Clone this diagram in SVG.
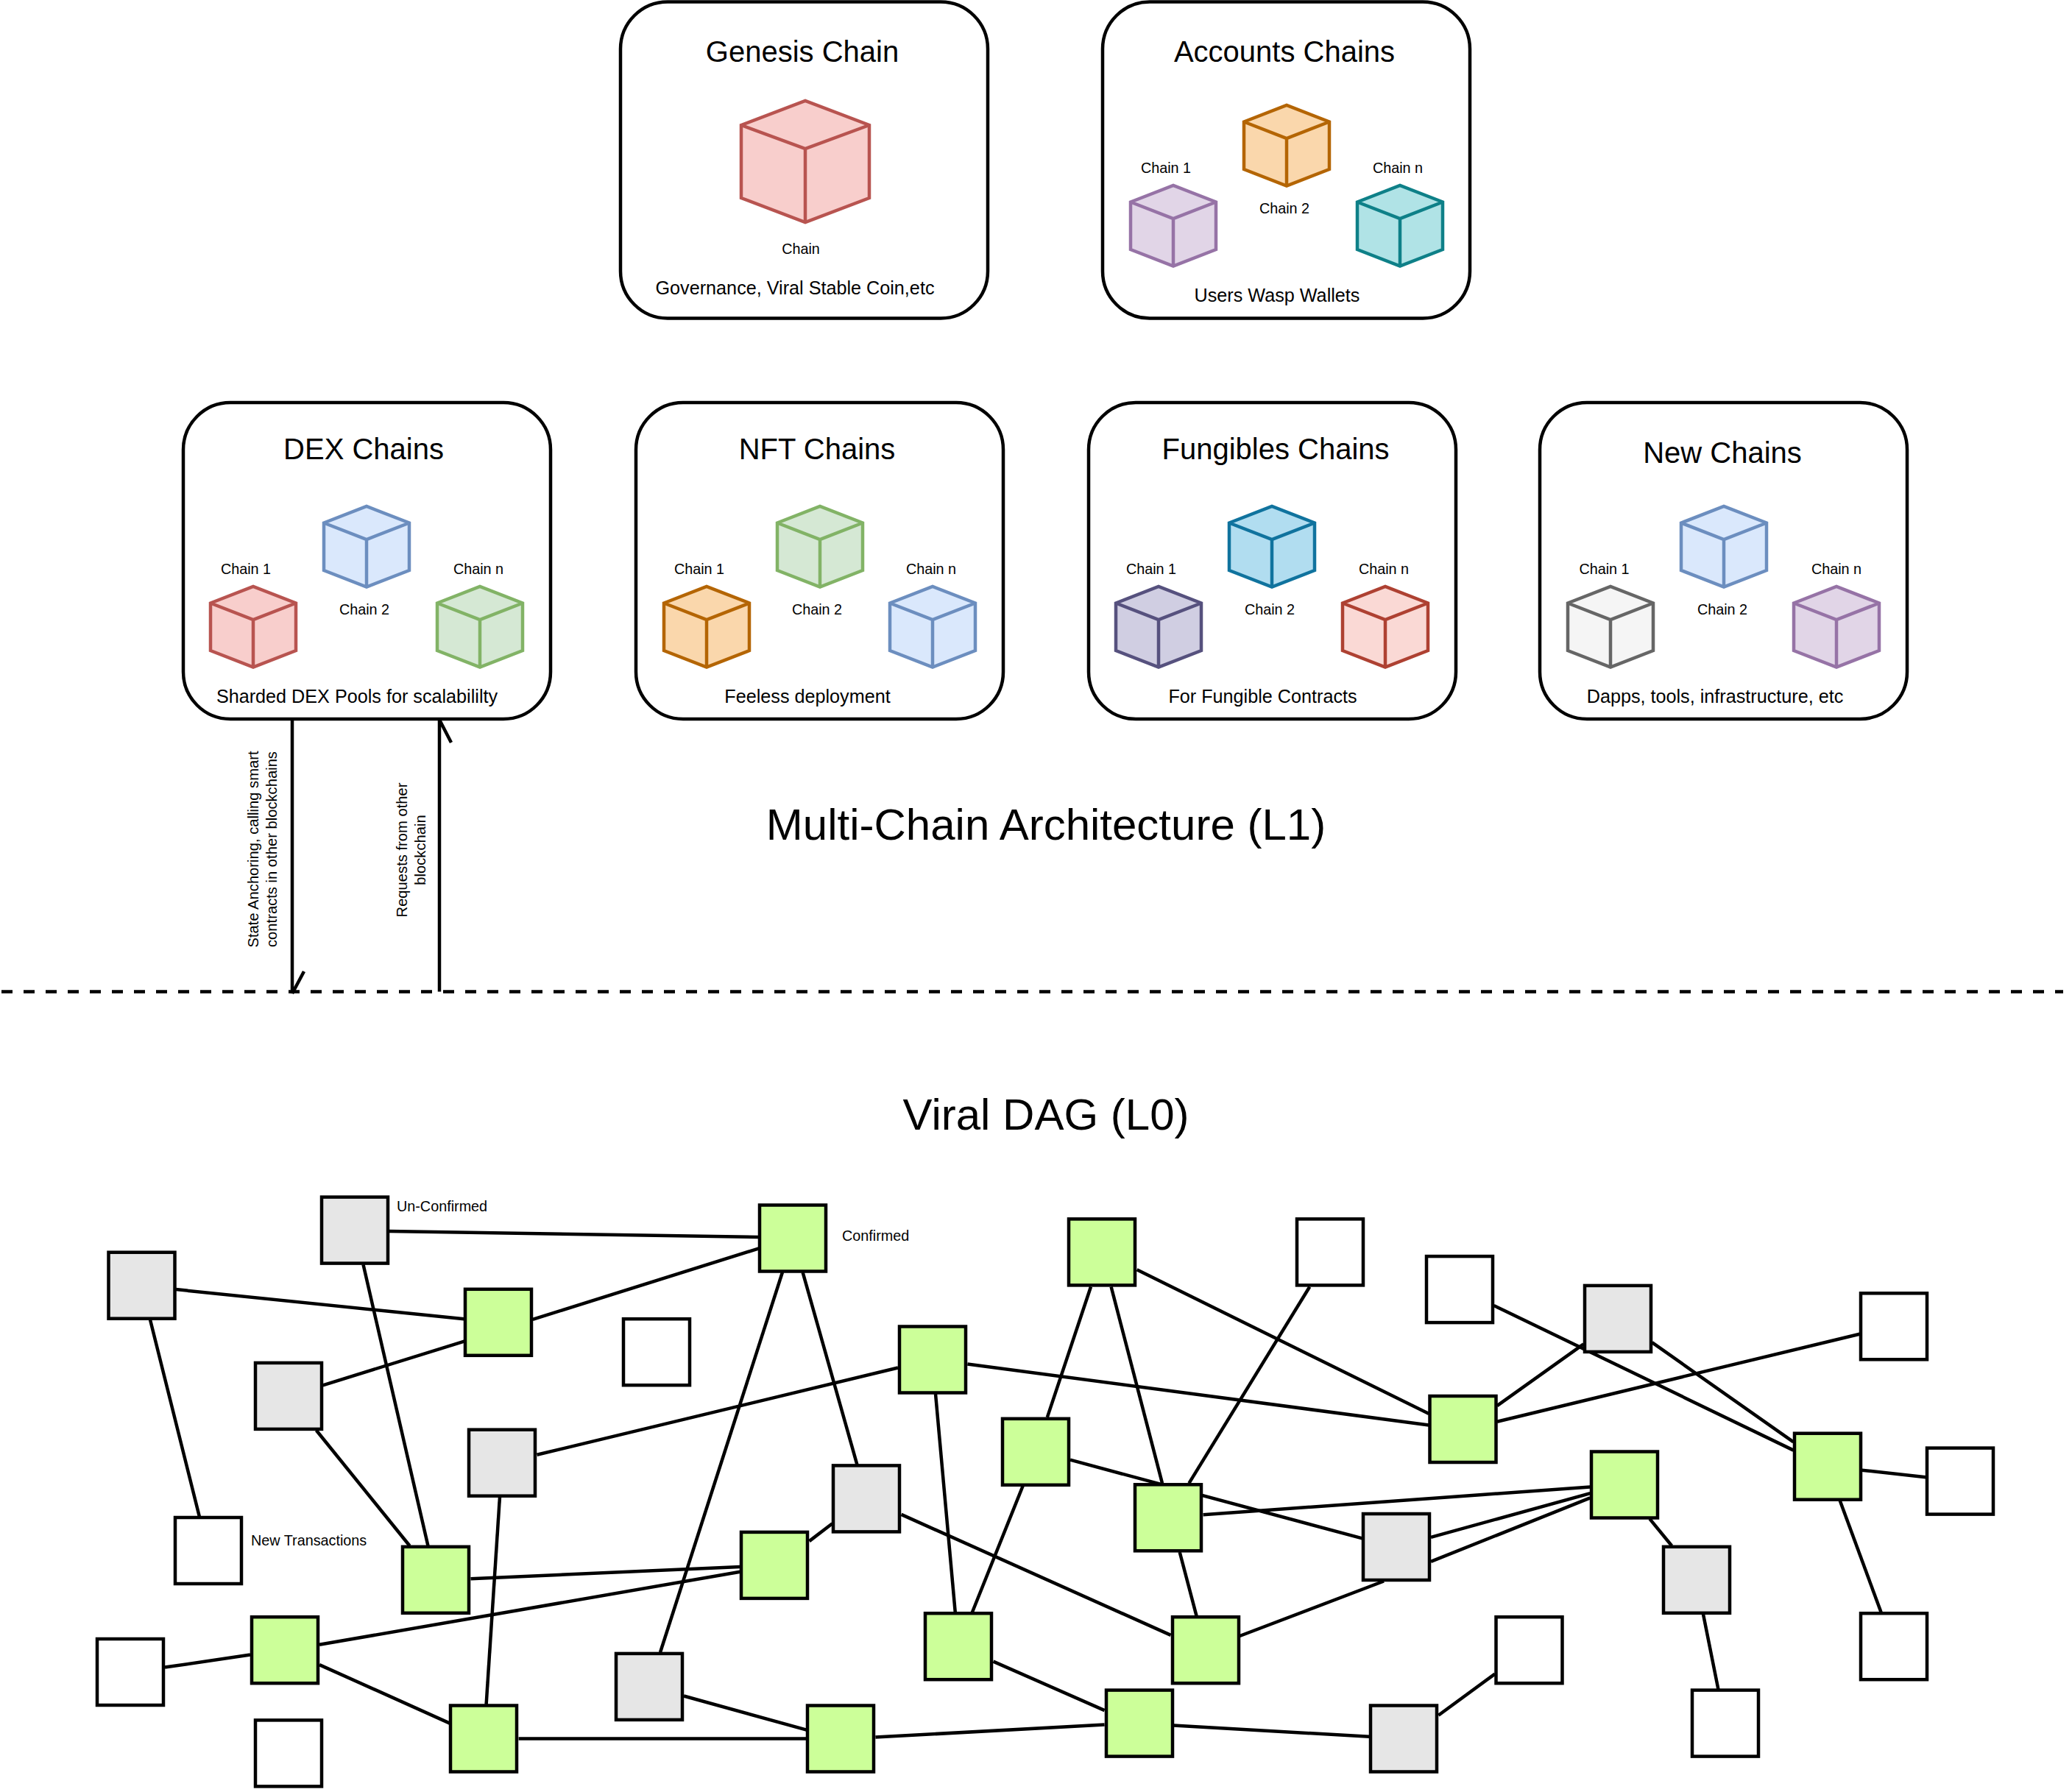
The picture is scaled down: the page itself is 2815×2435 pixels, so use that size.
<svg xmlns="http://www.w3.org/2000/svg" width="2815" height="2435" viewBox="0 0 2815 2435">
<style>
text{font-family:"Liberation Sans",Arial,Helvetica,sans-serif;fill:#000}
.t{font-size:40px;text-anchor:middle}
.s{font-size:25.2px;text-anchor:middle}
.l{font-size:19.8px;text-anchor:middle}
.r{font-size:20.2px;text-anchor:middle}
.ls{font-size:19.8px}
.h{font-size:60px;text-anchor:middle}
.box{fill:#fff;stroke:#000;stroke-width:4.5}
.c{stroke-width:4.5;stroke-linejoin:miter}
.i{fill:none}
.red{fill:#f8cecc;stroke:#b85450}.blue{fill:#dae8fc;stroke:#6c8ebf}.green{fill:#d5e8d4;stroke:#82b366}
.orange{fill:#fad7ac;stroke:#b46504}.purple{fill:#e1d5e7;stroke:#9673a6}.teal{fill:#b0e3e6;stroke:#0e8088}
.dblue{fill:#b1ddf0;stroke:#10739e}.dpurple{fill:#d0cee2;stroke:#56517e}.dred{fill:#fad9d5;stroke:#ae4132}.gray{fill:#f5f5f5;stroke:#666666}
.n{stroke:#000;stroke-width:4.5;width:90px;height:90px}
.g{fill:#ccff99}.u{fill:#e6e6e6}.w{fill:#fff}
#connectors line,#connectors path{stroke:#000;stroke-width:4.5;fill:none}
#divider{stroke:#000;stroke-width:4.5;stroke-dasharray:15 15}
</style>
<defs>
<g id="cube"><path d="M0 22.5L58 0L116 22.5V87L58 109.5L0 87Z"/><path class="i" d="M0 22.5L58 45L116 22.5M58 45V109.5"/></g>
<g id="bigcube"><path d="M0 33L87 0L174 33V132L87 165L0 132Z"/><path class="i" d="M0 33L87 65L174 33M87 65V165"/></g>
</defs>
<rect width="2815" height="2435" fill="#fff"/>
<g id="genesis-chain">
<rect class="box" x="843" y="2.5" width="499" height="430" rx="64" ry="64"/>
<text class="t" x="1090" y="84">Genesis Chain</text>
<use href="#bigcube" x="1007" y="137" class="c red"/>
<text class="l" x="1088" y="345">Chain</text>
<text class="s" x="1080" y="400">Governance, Viral Stable Coin,etc</text>
</g>
<g id="accounts-chains">
<rect class="box" x="1498" y="2.5" width="499" height="430" rx="64" ry="64"/>
<text class="t" x="1745" y="84">Accounts Chains</text>
<use href="#cube" x="1690" y="143" class="c orange"/>
<use href="#cube" x="1536" y="252" class="c purple"/>
<use href="#cube" x="1844" y="252" class="c teal"/>
<text class="l" x="1584" y="235">Chain 1</text>
<text class="l" x="1745" y="290">Chain 2</text>
<text class="l" x="1899" y="235">Chain n</text>
<text class="s" x="1735" y="410">Users Wasp Wallets</text>
</g>
<g id="dex-chains">
<rect class="box" x="249" y="547" width="499" height="430" rx="64" ry="64"/>
<text class="t" x="494" y="624">DEX Chains</text>
<use href="#cube" x="440" y="688" class="c blue"/>
<use href="#cube" x="286" y="797" class="c red"/>
<use href="#cube" x="594" y="797" class="c green"/>
<text class="l" x="334" y="780">Chain 1</text>
<text class="l" x="495" y="835">Chain 2</text>
<text class="l" x="650" y="780">Chain n</text>
<text class="s" x="485" y="955">Sharded DEX Pools for scalabililty</text>
</g>
<g id="nft-chains">
<rect class="box" x="864" y="547" width="499" height="430" rx="64" ry="64"/>
<text class="t" x="1110" y="624">NFT Chains</text>
<use href="#cube" x="1056" y="688" class="c green"/>
<use href="#cube" x="902" y="797" class="c orange"/>
<use href="#cube" x="1209" y="797" class="c blue"/>
<text class="l" x="950" y="780">Chain 1</text>
<text class="l" x="1110" y="835">Chain 2</text>
<text class="l" x="1265" y="780">Chain n</text>
<text class="s" x="1097" y="955">Feeless deployment</text>
</g>
<g id="fungibles-chains">
<rect class="box" x="1479" y="547" width="499" height="430" rx="64" ry="64"/>
<text class="t" x="1733" y="624">Fungibles Chains</text>
<use href="#cube" x="1670" y="688" class="c dblue"/>
<use href="#cube" x="1516" y="797" class="c dpurple"/>
<use href="#cube" x="1824" y="797" class="c dred"/>
<text class="l" x="1564" y="780">Chain 1</text>
<text class="l" x="1725" y="835">Chain 2</text>
<text class="l" x="1880" y="780">Chain n</text>
<text class="s" x="1715.5" y="955">For Fungible Contracts</text>
</g>
<g id="new-chains">
<rect class="box" x="2092" y="547" width="499" height="430" rx="64" ry="64"/>
<text class="t" x="2340" y="629">New Chains</text>
<use href="#cube" x="2284" y="688" class="c blue"/>
<use href="#cube" x="2130" y="797" class="c gray"/>
<use href="#cube" x="2437" y="797" class="c purple"/>
<text class="l" x="2179.5" y="780">Chain 1</text>
<text class="l" x="2340" y="835">Chain 2</text>
<text class="l" x="2495" y="780">Chain n</text>
<text class="s" x="2330" y="955">Dapps, tools, infrastructure, etc</text>
</g>
<text id="title-l1" class="h" x="1421" y="1141">Multi-Chain Architecture (L1)</text>
<text id="title-l0" class="h" x="1421" y="1535">Viral DAG (L0)</text>
<line id="divider" x1="2" y1="1347.5" x2="2803" y2="1347.5"/>
<g id="connectors">
<path d="M397 977V1350M413 1320L397 1350"/>
<path d="M597 1347.5V978M613 1009L597 978"/>
<line x1="528.6" y1="1673" x2="1031" y2="1680.9"/>
<line x1="239" y1="1752.1" x2="630.6" y2="1792.3"/>
<line x1="493.5" y1="1718.3" x2="581.5" y2="2100.5"/>
<line x1="204" y1="1793.3" x2="271" y2="2061.3"/>
<line x1="438.6" y1="1882.3" x2="630.6" y2="1822.7"/>
<line x1="723.7" y1="1792.9" x2="1031" y2="1696.4"/>
<line x1="429.7" y1="1943.5" x2="556.6" y2="2100.5"/>
<line x1="729.5" y1="1976.8" x2="1220" y2="1858.5"/>
<line x1="679" y1="2033.9" x2="660.6" y2="2315.8"/>
<line x1="1063" y1="1728.8" x2="897" y2="2245.2"/>
<line x1="639.5" y1="2145.3" x2="1005.6" y2="2128.9"/>
<line x1="434" y1="2234.8" x2="1005.6" y2="2135.8"/>
<line x1="224" y1="2265.6" x2="340" y2="2248.6"/>
<line x1="434" y1="2262.1" x2="611" y2="2341.6"/>
<line x1="704.6" y1="2362.5" x2="1096" y2="2362.5"/>
<line x1="929" y1="2304.5" x2="1095.7" y2="2350.6"/>
<line x1="1090.6" y1="1728.8" x2="1164.5" y2="1990.3"/>
<line x1="1314.4" y1="1853.5" x2="1941.3" y2="1936.5"/>
<line x1="1271" y1="1894" x2="1297.8" y2="2191"/>
<line x1="1482" y1="1748.5" x2="1422.8" y2="1925.9"/>
<line x1="1509.6" y1="1748.5" x2="1579" y2="2015.4"/>
<line x1="1544.6" y1="1725.3" x2="1941.3" y2="1921.1"/>
<line x1="1779.3" y1="1748.5" x2="1615.4" y2="2015.4"/>
<line x1="1454" y1="1983.7" x2="1850.7" y2="2090.4"/>
<line x1="1389.7" y1="2019" x2="1320.8" y2="2191"/>
<line x1="1634.6" y1="2058.3" x2="2160.3" y2="2020.5"/>
<line x1="1602.7" y1="2109" x2="1625.6" y2="2195.9"/>
<line x1="1130.7" y1="2070.2" x2="1099.5" y2="2094.1"/>
<line x1="1224.5" y1="2057.9" x2="1590.6" y2="2221.9"/>
<line x1="1684.3" y1="2223" x2="1880" y2="2148.5"/>
<line x1="1349.5" y1="2257.6" x2="1500.6" y2="2324.1"/>
<line x1="1189.4" y1="2360.5" x2="1500.6" y2="2343.6"/>
<line x1="1594.4" y1="2344.4" x2="1860.3" y2="2359.8"/>
<line x1="1954.3" y1="2330.7" x2="2030.9" y2="2274.6"/>
<line x1="1944" y1="2088.8" x2="2160.3" y2="2029.2"/>
<line x1="1944" y1="2121.9" x2="2160.3" y2="2035.4"/>
<line x1="2241.3" y1="2063.8" x2="2271.3" y2="2100.5"/>
<line x1="2314" y1="2193.5" x2="2334.4" y2="2295.4"/>
<line x1="2034" y1="1910.2" x2="2151.4" y2="1826.3"/>
<line x1="2034" y1="1931.7" x2="2526.4" y2="1812.7"/>
<line x1="2029.6" y1="1774" x2="2436.5" y2="1970.6"/>
<line x1="2244.5" y1="1824.2" x2="2436.5" y2="1959.4"/>
<line x1="2529.6" y1="1997.7" x2="2616.3" y2="2007.3"/>
<line x1="2499.6" y1="2038.8" x2="2555.7" y2="2191"/>
</g>
<g id="arrow-labels">
<text class="r" transform="translate(351 1154) rotate(-90)">State Anchoring, calling smart</text>
<text class="r" transform="translate(376 1154) rotate(-90)">contracts in other blockchains</text>
<text class="r" transform="translate(553 1155) rotate(-90)">Requests from other</text>
<text class="r" transform="translate(578 1155) rotate(-90)">blockchain</text>
</g>
<g id="dag-nodes">
<rect id="n1" class="n u" x="437" y="1626.6"/>
<rect id="n2" class="n u" x="147.5" y="1701.7"/>
<rect id="n3" class="n g" x="632" y="1751.8"/>
<rect id="n4" class="n u" x="347" y="1851.9"/>
<rect id="n5" class="n w" x="847" y="1792.2"/>
<rect id="n6" class="n u" x="637" y="1942.7"/>
<rect id="n7" class="n w" x="238" y="2062"/>
<rect id="n8" class="n g" x="547" y="2101.8"/>
<rect id="n9" class="n g" x="1007" y="2081.9"/>
<rect id="n10" class="n w" x="132" y="2227"/>
<rect id="n11" class="n g" x="342" y="2197.2"/>
<rect id="n12" class="n u" x="837" y="2246.9"/>
<rect id="n13" class="n g" x="612" y="2317.5"/>
<rect id="n14" class="n w" x="347" y="2337.4"/>
<rect id="n15" class="n g" x="1032" y="1637.5"/>
<rect id="n16" class="n g" x="1452" y="1656.4"/>
<rect id="n17" class="n w" x="1762" y="1656.4"/>
<rect id="n18" class="n w" x="1938" y="1707.1"/>
<rect id="n19" class="n g" x="1222" y="1802.5"/>
<rect id="n20" class="n g" x="1362" y="1927.8"/>
<rect id="n21" class="n u" x="1132" y="1991.4"/>
<rect id="n22" class="n g" x="1542" y="2017.3"/>
<rect id="n23" class="n u" x="1852" y="2057"/>
<rect id="n24" class="n g" x="1257" y="2192.2"/>
<rect id="n25" class="n g" x="1593" y="2197.2"/>
<rect id="n26" class="n g" x="1097" y="2317.5"/>
<rect id="n27" class="n g" x="1503" y="2296.6"/>
<rect id="n28" class="n u" x="1862" y="2317.5"/>
<rect id="n29" class="n g" x="1942.5" y="1897"/>
<rect id="n30" class="n u" x="2153" y="1746.9"/>
<rect id="n31" class="n w" x="2528" y="1757.3"/>
<rect id="n32" class="n g" x="2438" y="1947.7"/>
<rect id="n33" class="n w" x="2618" y="1967.6"/>
<rect id="n34" class="n g" x="2162" y="1972.5"/>
<rect id="n35" class="n u" x="2260" y="2101.8"/>
<rect id="n36" class="n w" x="2528" y="2192.2"/>
<rect id="n37" class="n w" x="2032.5" y="2197.2"/>
<rect id="n38" class="n w" x="2299" y="2296.6"/>
<text class="ls" x="539" y="1645.5">Un-Confirmed</text>
<text class="ls" x="341" y="2100">New Transactions</text>
<text class="ls" x="1144" y="1685.5">Confirmed</text>
</g>
</svg>
